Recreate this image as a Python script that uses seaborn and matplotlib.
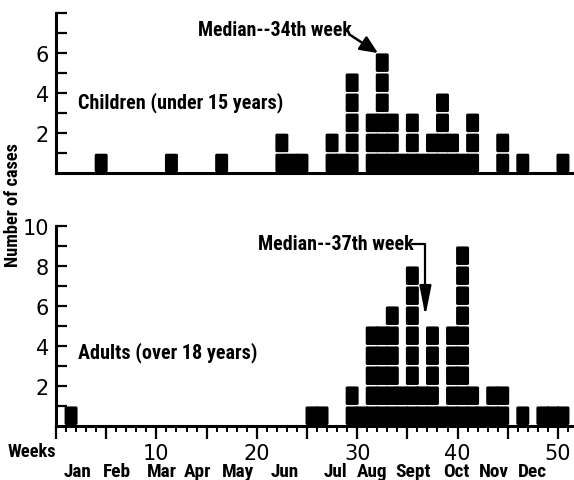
"""
Epidemic curve: cases by week of onset, children vs adults.
Each case is drawn as one stacked block above its week.
"""

import numpy as np
import pandas as pd
import matplotlib
matplotlib.use("Agg")
import matplotlib.pyplot as plt
from matplotlib import font_manager
from matplotlib.ticker import MultipleLocator, FixedLocator
import seaborn as sns


# ============================================================================
# DATA (cases per week of onset)
# ============================================================================

CHILD_WEEKS = [5, 12, 17, 23, 24, 25, 28, 29, 30, 32, 33, 34, 35, 36,
               37, 38, 39, 40, 41, 42, 45, 47, 51]
CHILD_CASES = [1, 1, 1, 2, 1, 1, 2, 1, 5, 3, 6, 3, 1, 3,
               1, 2, 4, 2, 1, 3, 2, 1, 1]

ADULT_WEEKS = [2, 26, 27, 30, 31, 32, 33, 34, 35, 36, 37, 38, 39, 40,
               41, 42, 43, 44, 45, 47, 49, 50, 51]
ADULT_CASES = [1, 1, 1, 2, 1, 5, 5, 6, 2, 8, 2, 5, 1, 5,
               9, 2, 1, 2, 2, 1, 1, 1, 1]

CHILD_YLABELS = [2, 4, 6]
ADULT_YLABELS = [2, 4, 6, 8, 10]

MONTHS = ["Jan", "Feb", "Mar", "Apr", "May", "Jun",
          "Jul", "Aug", "Sept", "Oct", "Nov", "Dec"]
MONTH_POS = [2.1, 6.1, 10.5, 14.1, 18.1, 22.8,
             27.8, 31.5, 35.6, 39.9, 43.6, 47.5]

CHILD_MEDIAN_LABEL = "Median--34th week"
ADULT_MEDIAN_LABEL = "Median--37th week"

# ============================================================================
# STYLE
# ============================================================================

sns.set_theme(style="white", rc={"text.color": "black",
                                 "xtick.color": "black",
                                 "ytick.color": "black",
                                 "axes.labelcolor": "black"})
plt.rcParams["font.family"] = ["DejaVu Sans"]


def pick_narrow_font():
    """Find a condensed bold face if one is installed."""
    entries = font_manager.fontManager.ttflist
    names = {f.name for f in entries}
    for cand in ["Liberation Sans Narrow", "Roboto Condensed",
                 "Open Sans Condensed", "Noto Sans Condensed",
                 "DejaVu Sans Condensed", "Arial Narrow"]:
        if cand in names:
            return {"family": [cand, "DejaVu Sans"]}
    for f in entries:
        if "condensed" in str(f.stretch) or "Narrow" in f.name \
                or "Condensed" in f.name:
            return {"family": [f.name, "DejaVu Sans"], "stretch": f.stretch}
    return {"family": ["DejaVu Sans"]}


NARROW = pick_narrow_font()
BOLD = dict(fontweight="bold", **NARROW)

BLOCK_SIZE = 178      # marker area, pt^2 (block ~18 px tall)
X_MAX = 51.6
W, H = 574.0, 481.0


def block_marker(w=0.70, h=1.0, r=0.08, n=5):
    """Rounded rectangle used as scatter marker (one block = one case)."""
    pts = []
    corners = [(w / 2 - r, h / 2 - r, 0), (-w / 2 + r, h / 2 - r, 90),
               (-w / 2 + r, -h / 2 + r, 180), (w / 2 - r, -h / 2 + r, 270)]
    for cx, cy, a0 in corners:
        for a in np.linspace(a0, a0 + 90, n):
            t = np.deg2rad(a)
            pts.append((cx + r * np.cos(t), cy + r * np.sin(t)))
    return np.array(pts)


def expand(weeks, cases):
    """One row per case: block centred in its week, stacked upwards."""
    rows = []
    for w, c in zip(weeks, cases):
        for k in range(c):
            rows.append({"week": w - 0.5, "level": k + 0.5})
    return pd.DataFrame(rows)


def draw_panel(ax, weeks, cases, ymax, ylabels):
    df = expand(weeks, cases)
    sns.scatterplot(data=df, x="week", y="level", ax=ax, color="black",
                    marker=block_marker(), s=BLOCK_SIZE, linewidth=0,
                    edgecolor="none", legend=False)
    ax.set_xlim(0, X_MAX)
    ax.set_ylim(0, ymax)
    ax.set_xlabel("")
    ax.set_ylabel("")
    for side in ["top", "right"]:
        ax.spines[side].set_visible(False)
    for side in ["left", "bottom"]:
        ax.spines[side].set_linewidth(2.2)
        ax.spines[side].set_color("black")
    ticks = list(range(1, ymax + 1))
    ax.yaxis.set_major_locator(FixedLocator(ticks))
    ax.set_yticklabels([str(t) if t in ylabels else "" for t in ticks])
    ax.tick_params(axis="y", direction="in", length=8, width=1.6,
                   color="black", labelsize=15, pad=5, left=True)


def fit_width(text, px, renderer, vertical=False, boost=1.0):
    """Scale a text's font size so it spans about px pixels."""
    bb = text.get_window_extent(renderer)
    size = bb.height if vertical else bb.width
    text.set_fontsize(text.get_fontsize() * px / size * boost)


fig = plt.figure(figsize=(5.74, 4.81), dpi=100)
ax_top = fig.add_axes([56 / W, (H - 174) / H, (W - 56) / W, 160.5 / H])
ax_bot = fig.add_axes([56 / W, (H - 426.7) / H, (W - 56) / W, 200 / H])

draw_panel(ax_top, CHILD_WEEKS, CHILD_CASES, 8, CHILD_YLABELS)
draw_panel(ax_bot, ADULT_WEEKS, ADULT_CASES, 10, ADULT_YLABELS)

# top panel: plain baseline, no week ticks
ax_top.set_xticks([])

# bottom panel: week ticks
ax_bot.xaxis.set_minor_locator(MultipleLocator(1))
ax_bot.set_xticks(range(0, 51, 5))
ax_bot.set_xticklabels([str(t) if t % 10 == 0 and t > 0 else ""
                        for t in range(0, 51, 5)])
ax_bot.tick_params(axis="x", which="major", direction="out", length=9,
                   width=1.6, color="black", labelsize=15, pad=3.5,
                   bottom=True)
ax_bot.tick_params(axis="x", which="minor", direction="out", length=4,
                   width=1.4, color="black", bottom=True)

renderer = fig.canvas.get_renderer()

# month labels under the week numbers
month_texts = []
for m, pos in zip(MONTHS, MONTH_POS):
    month_texts.append(ax_bot.text(pos, -0.228, m,
                                   transform=ax_bot.get_xaxis_transform(),
                                   ha="center", va="center", fontsize=13,
                                   **BOLD))
sept = month_texts[MONTHS.index("Sept")]
fit_width(sept, 32, renderer, boost=1.09)
for t in month_texts:
    t.set_fontsize(sept.get_fontsize())

# group labels share one size, fitted to the children label
child_lab = ax_top.text(2.2, 3.57, "Children (under 15 years)", ha="left",
                        va="center", fontsize=14, **BOLD)
fit_width(child_lab, 200, renderer, boost=1.03)
ax_bot.text(2.2, 3.7, "Adults (over 18 years)", ha="left", va="center",
            fontsize=child_lab.get_fontsize(), **BOLD)

for t, px in [
    (ax_top.text(14.1, 7.13, CHILD_MEDIAN_LABEL, ha="left", va="center",
                 fontsize=14, **BOLD), 150),
    (ax_bot.text(20.1, 9.1, ADULT_MEDIAN_LABEL, ha="left", va="center",
                 fontsize=14, **BOLD), 152),
]:
    fit_width(t, px, renderer, boost=1.03)

ax_top.annotate("", xy=(32.07, 5.98), xytext=(29.4, 6.85),
                arrowprops=dict(arrowstyle="-|>,head_length=0.9,head_width=0.4",
                                color="black", lw=1.8, shrinkA=0, shrinkB=0))
ax_bot.annotate("", xy=(36.8, 5.5), xytext=(35.5, 9.1),
                arrowprops=dict(arrowstyle="-|>,head_length=1.5,head_width=0.3",
                                connectionstyle="angle,angleA=0,angleB=90,rad=0",
                                color="black", lw=1.6, shrinkA=0, shrinkB=0))

ylab = fig.text(13 / W, 1 - 205 / H, "Number of cases", rotation=90,
                ha="center", va="center", fontsize=12.5, **BOLD)
fit_width(ylab, 124, renderer, vertical=True)
weeks_lab = fig.text(32 / W, 1 - 452 / H, "Weeks", ha="center", va="center",
                     fontsize=13, **BOLD)
fit_width(weeks_lab, 46, renderer, boost=1.05)

fig.savefig("out.png", dpi=100)
